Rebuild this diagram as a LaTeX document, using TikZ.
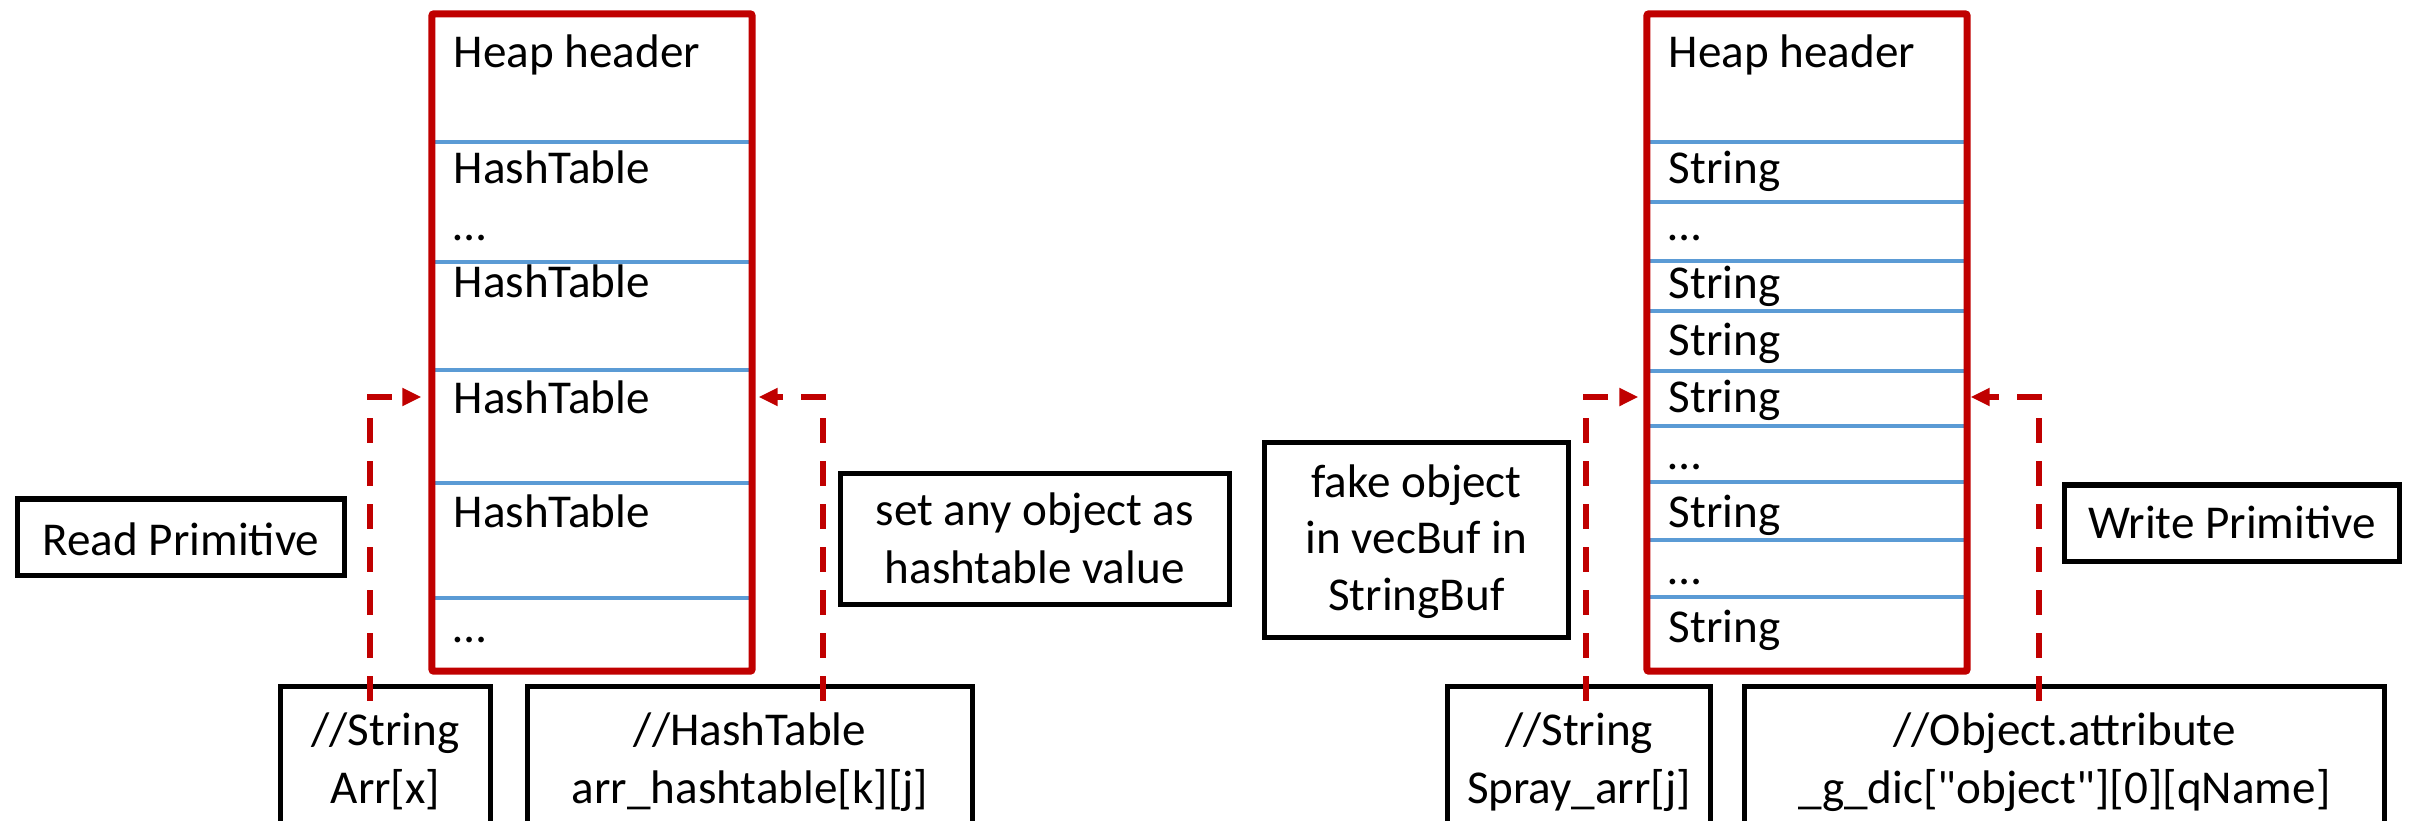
\documentclass[tikz,border=0pt]{standalone}
\usepackage{fontspec}
\setmainfont{Carlito}
\newfontfamily\plainq[Ligatures=ResetAll]{Carlito}
\usetikzlibrary{arrows.meta}
\definecolor{hred}{HTML}{C00000}
\definecolor{hblue}{HTML}{5B9BD5}
\newcommand{\sq}{{\plainq"}}
\begin{document}
\begin{tikzpicture}[x=0.01cm,y=-0.01cm,
  heap/.style={draw=hred, line width=0.07cm, rounded corners=0.02cm, inner sep=0pt, minimum height=6.57cm},
  bbox/.style={draw=black, line width=0.05cm, inner sep=0pt},
  sepline/.style={draw=hblue, line width=0.045cm},
  txt/.style={font=\fontsize{13.4}{16.1}\selectfont, inner sep=0pt, anchor=base},
  ltxt/.style={txt, anchor=base west},
  darrow/.style={draw=hred, line width=0.06cm, dash pattern=on 0.25cm off 0.18cm, -{Triangle[length=0.19cm,width=0.17cm]}}
]
\useasboundingbox (0,0) rectangle (2412,820);
\clip (0,0) rectangle (2412,820);

% separator lines, left heap
\foreach \yy in {142,262,370,483,598} \draw[sepline] (432,\yy) -- (752,\yy);
% separator lines, right heap
\foreach \yy in {142,202,261,311,371,426,482,540,597} \draw[sepline] (1647,\yy) -- (1967,\yy);

% heaps
\node[heap, minimum width=3.20cm] (H1) at (592,342.5) {};
\node[heap, minimum width=3.20cm] (H2) at (1807,342.5) {};

% left heap entries
\node[ltxt] (h1t0) at (453,67) {Heap header};
\node[ltxt] (h1t1) at (453,183) {HashTable};
\node[ltxt] (h1t2) at (453,240) {…};
\node[ltxt] (h1t3) at (453,297) {HashTable};
\node[ltxt] (h1t4) at (453,413) {HashTable};
\node[ltxt] (h1t5) at (453,527) {HashTable};
\node[ltxt] (h1t6) at (453,642) {…};

% right heap entries
\node[ltxt] (h2t0) at (1668,67) {Heap header};
\node[ltxt] (h2t1) at (1668,183) {String};
\node[ltxt] (h2t2) at (1668,240) {…};
\node[ltxt] (h2t3) at (1668,298) {String};
\node[ltxt] (h2t4) at (1668,355) {String};
\node[ltxt] (h2t5) at (1668,412) {String};
\node[ltxt] (h2t6) at (1668,469) {…};
\node[ltxt] (h2t7) at (1668,527) {String};
\node[ltxt] (h2t8) at (1668,584) {…};
\node[ltxt] (h2t9) at (1668,642) {String};

% middle labels
\node[bbox, minimum width=3.26cm, minimum height=0.76cm] (R) at (181,537) {};
\node[txt] (Rt) at (181,555) {Read Primitive};
\node[bbox, minimum width=3.885cm, minimum height=1.305cm] (S) at (1034.75,539) {};
\node[txt] (St1) at (1034.75,525) {set any object as};
\node[txt] (St2) at (1034.75,583) {hashtable value};
\node[bbox, minimum width=3.03cm, minimum height=1.94cm] (F) at (1416.5,540) {};
\node[txt] (Ft1) at (1416.5,497) {fake object};
\node[txt] (Ft2) at (1416.5,553) {in vecBuf in};
\node[txt] (Ft3) at (1416.5,610) {StringBuf};
\node[bbox, minimum width=3.34cm, minimum height=0.76cm] (W) at (2232,523) {};
\node[txt] (Wt) at (2232,538) {Write Primitive};

% bottom boxes
\node[bbox, minimum width=2.09cm, minimum height=2.12cm] (A) at (385.5,792.5) {};
\node[txt] (At1) at (385.5,745) {//String};
\node[txt] (At2) at (385.5,803) {Arr[x]};
\node[bbox, minimum width=4.44cm, minimum height=2.12cm] (B) at (750,792.5) {};
\node[txt] (Bt1) at (750,745) {//HashTable};
\node[txt] (Bt2) at (750,803) {arr\_hashtable[k][j]};
\node[bbox, minimum width=2.62cm, minimum height=2.12cm] (C) at (1579,792.5) {};
\node[txt] (Ct1) at (1579,745) {//String};
\node[txt] (Ct2) at (1579,803) {Spray\_arr[j]};
\node[bbox, minimum width=6.39cm, minimum height=2.12cm] (D) at (2064.5,792.5) {};
\node[txt] (Dt1) at (2064.5,745) {//Object.attribute};
\node[txt] (Dt2) at (2064.5,803) {\_g\_dic[\sq object\sq][0][qName]};

% connectors
\coordinate (cA) at (370,397);
\coordinate (cB) at (823,397);
\coordinate (cC) at (1586,397);
\coordinate (cD) at (2039,397);
\draw[darrow, shorten >=0.07cm] ([yshift=-0.17cm]A.north -| cA) |- (H1.west |- cA);
\draw[darrow, shorten >=0.03cm] ([yshift=-0.17cm]B.north -| cB) |- (H1.east |- cB);
\draw[darrow, shorten >=0.05cm] ([yshift=-0.17cm]C.north -| cC) |- (H2.west |- cC);
\draw[darrow] ([yshift=-0.17cm]D.north -| cD) |- (H2.east |- cD);
\end{tikzpicture}
\end{document}
